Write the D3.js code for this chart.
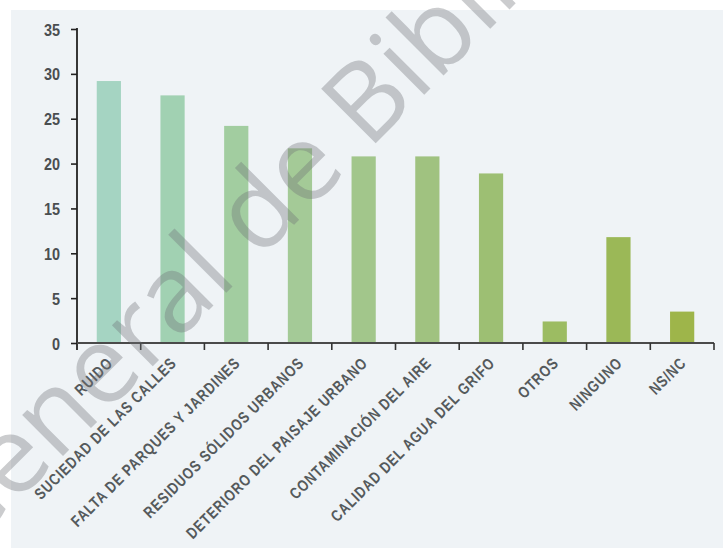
<!DOCTYPE html>
<html>
<head>
<meta charset="utf-8">
<script src="https://cdn.jsdelivr.net/npm/d3@7"></script>
<style>
  html, body { margin: 0; padding: 0; background: #ffffff; }
  svg { display: block; }
  .lbl { font-family: "Liberation Sans", Arial, sans-serif; font-weight: bold; fill: #555a5c; }
</style>
</head>
<body>
<svg id="chart" width="723" height="548"></svg>
<script>
// Problemas ambientales percibidos (%)
const categories = [
  "RUIDO",
  "SUCIEDAD DE LAS CALLES",
  "FALTA DE PARQUES Y JARDINES",
  "RESIDUOS SÓLIDOS URBANOS",
  "DETERIORO DEL PAISAJE URBANO",
  "CONTAMINACIÓN DEL AIRE",
  "CALIDAD DEL AGUA DEL GRIFO",
  "OTROS",
  "NINGUNO",
  "NS/NC"
];
const values = [29.2, 27.6, 24.2, 21.7, 20.8, 20.8, 18.9, 2.4, 11.8, 3.5];
const yTicks = [0, 5, 10, 15, 20, 25, 30, 35];

// bar fills, shading from blue-green to olive
const palette = ["#a5d4c2", "#a1d1b2", "#a2cda0", "#a4ca97", "#a2c68b", "#a0c280", "#9dbf73", "#9cbc62", "#9bb857", "#9eb54a"];

const svg = d3.select("#chart");
const W = 723, H = 548;
const plotLeft = 77, plotRight = 714, plotTop = 29, plotBase = 343;
const narrow = 0.8; // horizontal squeeze for the condensed lettering

// panel background
svg.append("rect").attr("x", 11).attr("y", 10).attr("width", W - 11).attr("height", H - 10).attr("fill", "#eff3f6");

const x = d3.scaleBand().domain(categories).range([plotLeft, plotRight]).padding(0);
const y = d3.scaleLinear().domain([0, 35]).range([plotBase, plotTop]);
const barW = x.bandwidth() * 0.38;

// bars
svg.append("g").selectAll("rect").data(categories).join("rect")
  .attr("x", d => x(d) + (x.bandwidth() - barW) / 2)
  .attr("y", (d, i) => y(values[i]))
  .attr("width", barW)
  .attr("height", (d, i) => y(0) - y(values[i]))
  .attr("fill", (d, i) => palette[i]);

// y axis
const yAxis = svg.append("g").attr("transform", `translate(${plotLeft},0)`)
  .call(d3.axisLeft(y).tickValues(yTicks).tickSize(6).tickSizeOuter(0));
yAxis.select(".domain").remove();
yAxis.selectAll(".tick line").attr("stroke", "#222").attr("stroke-width", 1.6);
yAxis.selectAll(".tick text")
  .attr("class", "lbl")
  .style("font-size", "17px")
  .style("fill", "#4a4e50")
  .attr("x", 0).attr("dy", "0.36em")
  .attr("text-anchor", "end")
  .attr("transform", "translate(-17,0) scale(0.85,1)");
svg.append("line").attr("x1", plotLeft).attr("x2", plotLeft).attr("y1", y(35) - 1).attr("y2", plotBase + 7)
  .attr("stroke", "#222").attr("stroke-width", 1.8);

// x axis line and boundary ticks
svg.append("line").attr("x1", plotLeft).attr("x2", plotRight).attr("y1", plotBase).attr("y2", plotBase)
  .attr("stroke", "#4a4a4a").attr("stroke-width", 2);
const bounds = categories.map(d => x(d)).concat([x(categories[categories.length - 1]) + x.bandwidth()]);
svg.append("g").selectAll("line").data(bounds.slice(1)).join("line")
  .attr("x1", d => d).attr("x2", d => d).attr("y1", plotBase).attr("y2", plotBase + 7)
  .attr("stroke", "#333").attr("stroke-width", 1.6);

// category labels
const xAxis = svg.append("g").attr("transform", `translate(0,${plotBase})`)
  .call(d3.axisBottom(x).tickSize(0).tickSizeOuter(0));
xAxis.select(".domain").remove();
xAxis.selectAll(".tick text")
  .attr("class", "lbl")
  .style("font-size", "16px")
  .style("letter-spacing", "1.2px")
  .attr("text-anchor", "end")
  .attr("x", 0).attr("y", 0).attr("dy", 0)
  .attr("transform", `translate(5,21) rotate(-45) scale(${narrow},1)`);

// library watermark across the plot, laid out so that the stem of the
// "l" and the stem of the "B" fall on the diagonal through the chart
const wmSize = 108;
const wm = svg.append("text")
  .attr("font-family", "'Open Sans', 'Lato', sans-serif")
  .attr("font-weight", 400)
  .attr("font-size", wmSize)
  .attr("fill", "#6e7378")
  .attr("fill-opacity", 0.36)
  .text("General de Biblioteca");
const n = wm.node();
const sL = n.getSubStringLength(0, "Genera".length) + 0.125 * wmSize;
const sB = n.getSubStringLength(0, "General de ".length) + 0.135 * wmSize;
const sMid = (sL + sB) / 2;
const mid = [(233 + 375) / 2, (287 + 143) / 2];
wm.attr("transform", `translate(${mid[0] - sMid / Math.SQRT2},${mid[1] + sMid / Math.SQRT2}) rotate(-45)`);
</script>
</body>
</html>
